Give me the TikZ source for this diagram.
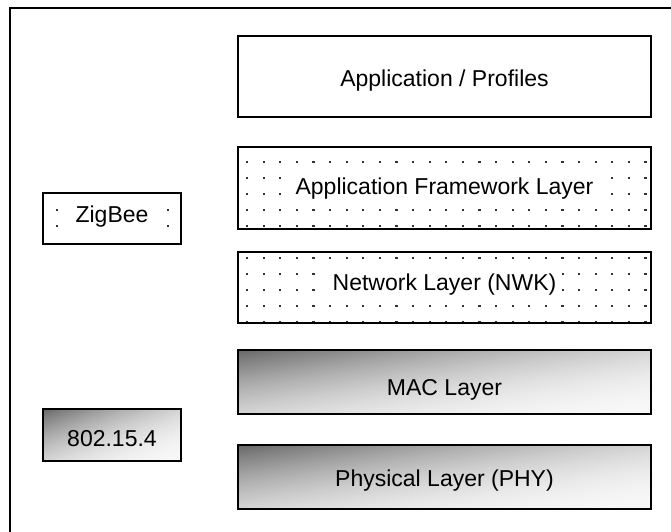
\documentclass[tikz,border=0pt]{standalone}
\usepackage{fontspec}
\setmainfont{Liberation Sans}
\newcommand{\gradfill}[4]{%
  \begin{scope}
    \clip (#1,#2) rectangle (#3,#4);
    \foreach \gi in {0,...,59}{
      \pgfmathsetmacro{\gs}{2*\gi/60}
      \pgfmathsetmacro{\gd}{3+57*(1-(\gi+0.5)/60)^2}
      \fill[black!\gd] ({#1+(\gs+1)*(#3-#1)},{#2-(#4-#2)}) -- ({#1+(\gs-2)*(#3-#1)},{#2+2*(#4-#2)}) -- ({#1+3*(#3-#1)},{#2+2*(#4-#2)}) -- ({#1+3*(#3-#1)},{#2-(#4-#2)}) -- cycle;
    }
  \end{scope}}
\begin{document}
\begin{tikzpicture}[x=1pt,y=-1pt,
  box/.style={draw=black, line width=1.8pt, rectangle, inner sep=0pt},
  plainbox/.style={box, fill=white},
  lbl/.style={font=\fontsize{23}{27}\selectfont, anchor=base, inner sep=0pt, text=black},
  dotlbl/.style={lbl, fill=white, inner xsep=6pt, inner ysep=3pt},
  dotmark/.style={fill=black!80},
  frameline/.style={draw=black, line width=2.5pt}
]
\useasboundingbox (0,0) rectangle (671,531);
% outer frame
\coordinate (fbl) at (10,534);
\coordinate (ftl) at (10,8);
\coordinate (ftr) at (674,8);
\draw[frameline] (fbl) -- (ftl) -- (ftr);

% dot grids
\foreach \r in {162,178,194,210,226,258,274,290,306,322}{
  \foreach \k in {0,...,24}{
    \fill[dotmark] ({247+16.6*\k-1.1},{\r-0.7}) rectangle ({247+16.6*\k+1.1},{\r+0.7});
  }
}
\foreach \r in {210,226}{
  \foreach \k in {0,...,7}{
    \fill[dotmark] ({57+15.9*\k-1.1},{\r-0.7}) rectangle ({57+15.9*\k+1.1},{\r+0.7});
  }
}

% gradient fills
\gradfill{238}{350}{651}{414}
\gradfill{238}{445}{651}{509}
\gradfill{43}{409}{181}{461}

% boxes
\node[plainbox, minimum width=413pt, minimum height=81pt] (ap) at (444.5,76.5) {};
\node[box, minimum width=413pt, minimum height=64pt] (mac) at (444.5,382) {};
\node[box, minimum width=413pt, minimum height=64pt] (phy) at (444.5,477) {};
\node[box, minimum width=138pt, minimum height=52pt] (ieee) at (112,435) {};

% labels
\node[lbl] (tap) at (444.5,86) {Application / Profiles};
\node[dotlbl] (taf) at (444.5,194) {Application Framework Layer};
\node[dotlbl] (tnwk) at (444.5,290) {Network Layer (NWK)};
\node[lbl] (tmac) at (444.5,395) {MAC Layer};
\node[lbl] (tphy) at (444.5,486) {Physical Layer (PHY)};
\node[dotlbl] (tzb) at (112,222) {ZigBee};
\node[lbl] (tieee) at (112,446) {802.15.4};

% dotted boxes (borders above the dots and labels)
\node[box, minimum width=413pt, minimum height=82pt] (af) at (444.5,188) {};
\node[box, minimum width=413pt, minimum height=71pt] (nwk) at (444.5,287.5) {};
\node[box, minimum width=138pt, minimum height=51pt] (zb) at (112,218.5) {};
\end{tikzpicture}
\end{document}
